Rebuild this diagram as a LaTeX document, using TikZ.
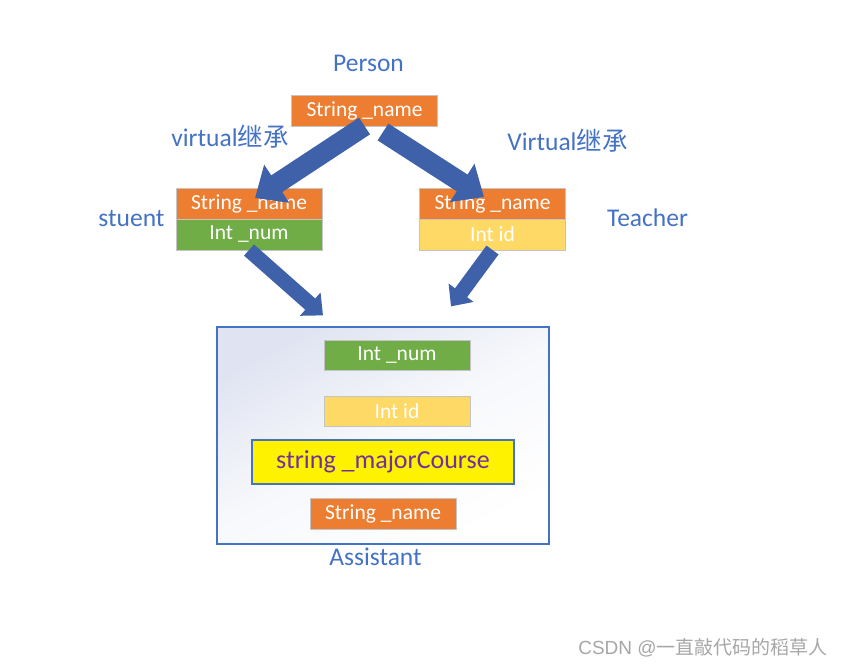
\documentclass[tikz,border=0pt]{standalone}
\usepackage{fontspec}
\setmainfont{Carlito}
\newfontfamily\cjk{Noto Sans CJK SC}
\newfontfamily\wmfont{Liberation Sans}
\usepackage{xcolor}
\usetikzlibrary{arrows.meta,positioning,calc}
\definecolor{fOrange}{HTML}{ED7D31}
\definecolor{fGreen}{HTML}{70AD47}
\definecolor{fGold}{HTML}{FFD966}
\definecolor{lblBlue}{HTML}{4472C4}
\definecolor{arrowBlue}{HTML}{3F61A9}
\definecolor{boxGray}{HTML}{C4C4C4}
\definecolor{frameTint}{HTML}{E0E4F2}
\definecolor{courseText}{HTML}{7030A0}
\tikzset{
    field/.style={rectangle, draw=boxGray, line width=0.8pt, minimum width=146pt, minimum height=31pt, inner sep=0pt, outer sep=0pt, text=white, font=\fontsize{21.5}{25}\selectfont},
    namefield/.style={field, fill=fOrange},
    numfield/.style={field, fill=fGreen},
    idfield/.style={field, fill=fGold},
    coursefield/.style={rectangle, draw=lblBlue, line width=1.4pt, fill=yellow, minimum width=262pt, minimum height=44pt, inner sep=0pt, text=courseText, font=\fontsize{26}{30}\selectfont},
    frame/.style={rectangle, draw=lblBlue, line width=1.2pt, minimum width=332pt, minimum height=217pt, top color=frameTint, bottom color=white, middle color=frameTint!25!white, shading angle=28},
    lbl/.style={anchor=base, text=lblBlue, font=\fontsize{25.5}{30}\selectfont},
    inherit/.style={line width=20pt, arrowBlue, -{Triangle[length=26pt, width=44pt]}},
    inheritsm/.style={line width=15pt, arrowBlue, -{Triangle[length=17pt, width=30pt]}},
}
\begin{document}
\begin{tikzpicture}[x=1pt, y=-1pt]
    \useasboundingbox (0,0) rectangle (844,667);

    % base class
    \node[lbl] (personLbl) at (368.5,71) {Person};
    \node[namefield] (perName) at (364.5,110.5) {String \_name};

    % middle classes
    \node[namefield] (stuName) at (249,203.5) {String \_name};
    \node[numfield, below=0pt of stuName] (stuNum) {Int \_num};
    \node[lbl] (stuLbl) at (131.5,226) {stuent};

    \node[namefield] (teaName) at (492.5,203.5) {String \_name};
    \node[idfield, below=0pt of teaName] (teaId) {Int id};
    \node[lbl] (teaLbl) at (647.5,226) {Teacher};

    \node[lbl] (virtL) at (230,146) {virtual{\cjk 继承}};
    \node[lbl] (virtR) at (567.5,150) {Virtual{\cjk 继承}};

    % derived class
    \node[frame] (assistant) at (383,435.5) {};
    \node[numfield, minimum height=30pt] (asNum) at (397,355) {Int \_num};
    \node[idfield, minimum height=30pt] (asId) at (397,411) {Int id};
    \node[coursefield] (asCourse) at (383,462) {string \_majorCourse};
    \node[namefield] (asName) at (383,513.5) {String \_name};
    \node[lbl] (asLbl) at (375.5,565) {Assistant};

    % inheritance arrows
    \draw[inherit] (perName.south) -- ($(stuName.north)+(6,10)$);
    \draw[inherit] ($(perName.south)+(18.5,6)$) -- ($(teaName.north)+(-8.5,9)$);
    \draw[inheritsm] (stuNum.south) -- ($(assistant.north)+(-60,-11)$);
    \draw[inheritsm] (teaId.south) -- ($(assistant.north)+(68,-20)$);

    \node[anchor=base, text=black!35, font=\fontsize{19}{22}\selectfont] (mark) at (703,654) {{\wmfont CSDN @}{\cjk 一直敲代码的稻草人}};
\end{tikzpicture}
\end{document}
